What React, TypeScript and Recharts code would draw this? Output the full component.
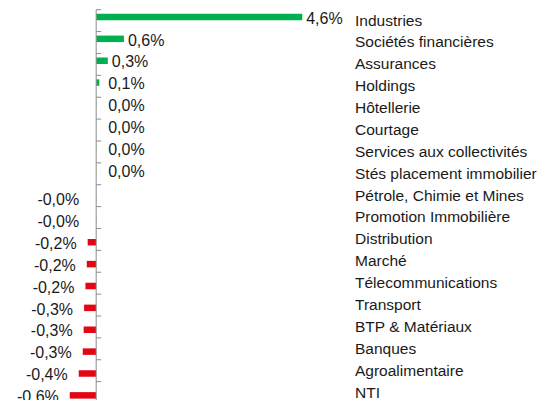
import { Bar, BarChart, LabelList, ReferenceLine, XAxis, YAxis } from "recharts";

const secteurs = [
  "Industries",
  "Sociétés financières",
  "Assurances",
  "Holdings",
  "Hôtellerie",
  "Courtage",
  "Services aux collectivités",
  "Stés placement immobilier",
  "Pétrole, Chimie et Mines",
  "Promotion Immobilière",
  "Distribution",
  "Marché",
  "Télecommunications",
  "Transport",
  "BTP & Matériaux",
  "Banques",
  "Agroalimentaire",
  "NTI",
];

// variation (%) by sector
const variations = [
  4.6, 0.62, 0.26, 0.07, 0.004, 0.003, 0.003, 0.002, -0.003, -0.004, -0.19, -0.21,
  -0.24, -0.27, -0.28, -0.3, -0.39, -0.59,
];

const xDomain = [-1.5, 5.6];

const data = secteurs.map((secteur, i) => ({
  secteur,
  hausse: variations[i] >= 0 ? variations[i] : null,
  baisse: variations[i] < 0 ? variations[i] : null,
}));

const FONT = '"Liberation Sans", Arial, Helvetica, sans-serif';
const TEXT = "#1a1a1a";
const GREEN = "#00b050";
const RED = "#e30613";
const AXIS = "#8c8c8c";

const fmt = (v: number) => v.toFixed(1).replace(".", ",") + "%";

const CategoryTick = ({ x, y, payload }: any) => (
  <text x={x} y={y} dy="0.32em" textAnchor="start" fill={TEXT} fontSize={15.5} fontFamily={FONT}>
    {payload.value}
  </text>
);

// zero axis with small tick marks at category boundaries
const ZeroAxis = (props: any) => {
  const { x1, y1, y2 } = props;
  if (x1 == null) return <g />;
  const top = Math.min(y1, y2);
  const bottom = Math.max(y1, y2);
  const step = (bottom - top) / secteurs.length;
  return (
    <g>
      <line x1={x1} x2={x1} y1={top} y2={bottom} stroke={AXIS} strokeWidth={1} />
      {secteurs.map((_, i) => (
        <line key={i} x1={x1} x2={x1 + 5} y1={top + i * step} y2={top + i * step} stroke={AXIS} strokeWidth={1} />
      ))}
    </g>
  );
};

const PosLabel = (props: any) => {
  const { x, y, width, height, value } = props;
  if (value == null) return null;
  const zero = Math.min(x, x + width);
  const w = Math.abs(width);
  return (
    <text x={zero + Math.max(w + 4, 12)} y={y + height / 2} dy="0.42em" fill={TEXT} fontSize={16} fontFamily={FONT}>
      {fmt(value)}
    </text>
  );
};

const NegLabel = (props: any) => {
  const { x, y, width, height, value } = props;
  if (value == null) return null;
  const left = Math.min(x, x + width);
  const zero = Math.max(x, x + width);
  return (
    <text x={Math.min(left - 11, zero - 17)} y={y + height / 2} dy="0.42em" textAnchor="end" fill={TEXT} fontSize={16} fontFamily={FONT}>
      {fmt(value)}
    </text>
  );
};

export default function App() {
  return (
    <div style={{ width: 537, height: 400 }}>
      <BarChart
        layout="vertical"
        width={537}
        height={400}
        data={data}
        margin={{ top: 1.7, right: 0, left: 21, bottom: 4.5 }}
        barSize={6.5}
        barGap={0}
      >
        <XAxis type="number" domain={xDomain} hide allowDataOverflow />
        <YAxis
          type="category"
          dataKey="secteur"
          orientation="right"
          width={198}
          axisLine={false}
          tickLine={false}
          interval={0}
          tick={<CategoryTick />}
        />
        <ReferenceLine x={0} stroke={AXIS} strokeWidth={1} shape={<ZeroAxis />} ifOverflow="visible" />
        <Bar dataKey="hausse" fill={GREEN} isAnimationActive={false}>
          <LabelList dataKey="hausse" content={<PosLabel />} />
        </Bar>
        <Bar dataKey="baisse" fill={RED} isAnimationActive={false}>
          <LabelList dataKey="baisse" content={<NegLabel />} />
        </Bar>
      </BarChart>
    </div>
  );
}
